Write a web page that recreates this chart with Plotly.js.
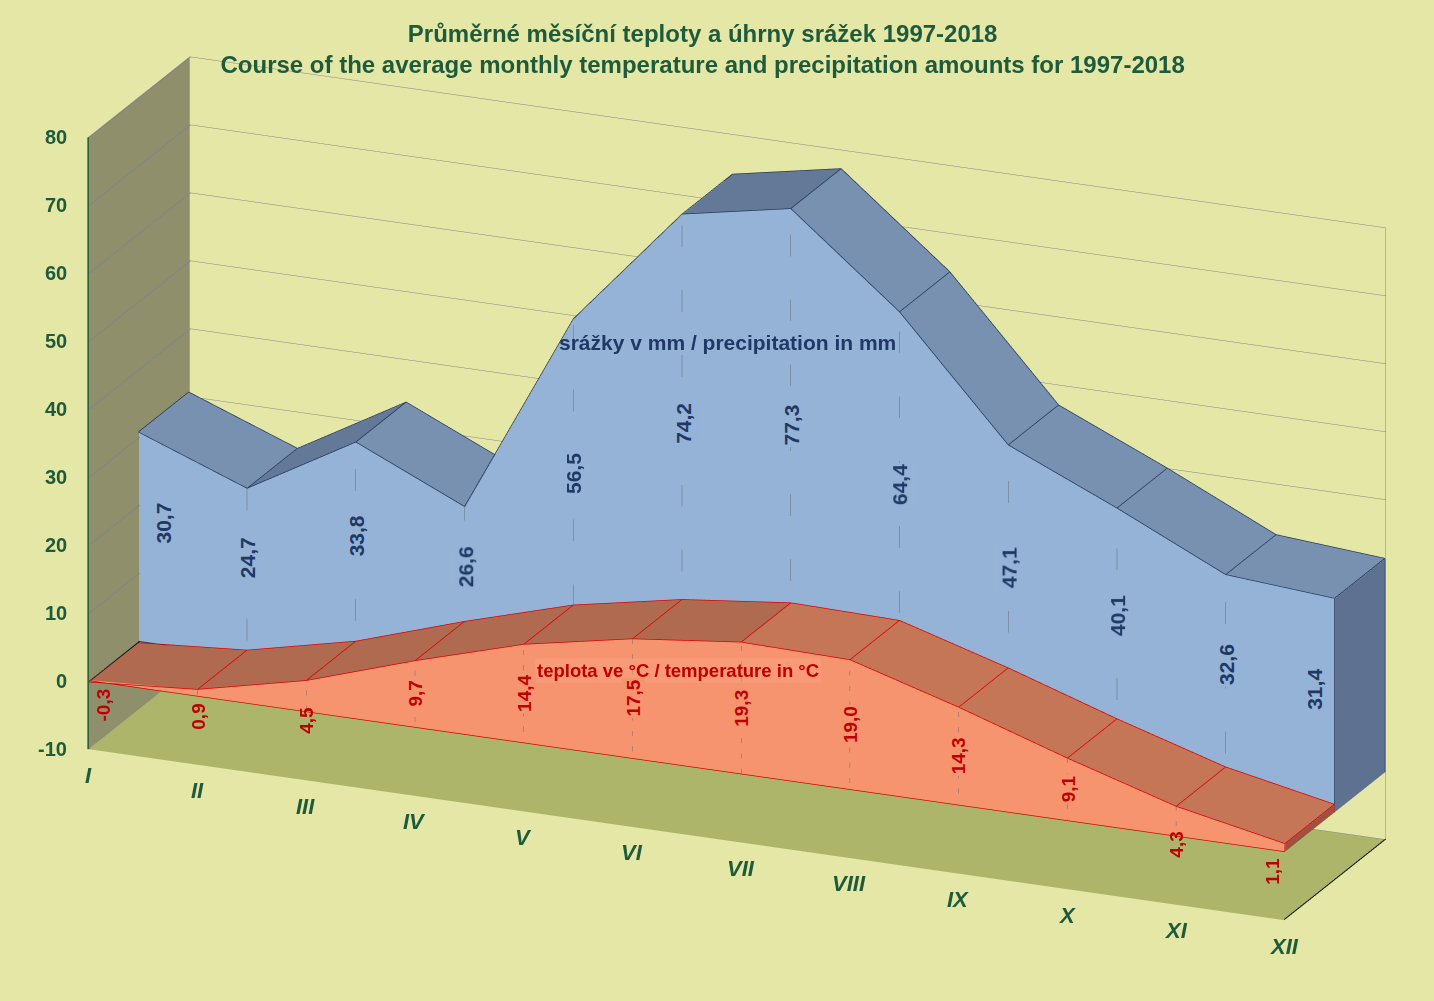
<!DOCTYPE html>
<html>
<head>
<meta charset="utf-8">
<script src="https://cdn.plot.ly/plotly-3.0.1.min.js"></script>
<style>
  html, body { margin: 0; padding: 0; background: #e4e7a6; }
  #chart { width: 1434px; height: 1001px; }
</style>
</head>
<body>
<div id="chart"></div>
<script>
// data
let months = ['I', 'II', 'III', 'IV', 'V', 'VI', 'VII', 'VIII', 'IX', 'X', 'XI', 'XII']
let precip = [30.7, 24.7, 33.8, 26.6, 56.5, 74.2, 77.3, 64.4, 47.1, 40.1, 32.6, 31.4]
let temp = [-0.3, 0.9, 4.5, 9.7, 14.4, 17.5, 19.3, 19.0, 14.3, 9.1, 4.3, 1.1]
let zTicks = [-10, 0, 10, 20, 30, 40, 50, 60, 70, 80]

let titleCz = 'Průměrné měsíční teploty a úhrny srážek 1997-2018'
let titleEn = 'Course of the average monthly temperature and precipitation amounts for 1997-2018'
let precipName = 'srážky v mm / precipitation in mm'
let tempName = 'teplota ve °C / temperature in °C'

let green = '#1e5a3c'
let navy = '#1f3864'
let darkRed = '#c00000'
let fontFam = 'Liberation Sans, Arial, sans-serif'

// depth slots of the two series (0 = front, 1 = back)
let tempDepth = [0.012, 0.5]
let precipDepth = [0.5, 0.996]

let fmt = function(v) { return v.toFixed(1).replace('.', ',') }

// one 3D area "slab" as a mesh
let slab = function(vals, y0, y1, colFront, colUp, colDown, colEnd) {
  let x = [], y = [], z = [], i = [], j = [], k = [], fc = []
  let add = function(px, py, pz) { x.push(px); y.push(py); z.push(pz); return x.length - 1 }
  let quad = function(a, b, c, d, col) {
    i.push(a); j.push(b); k.push(c); fc.push(col)
    i.push(a); j.push(c); k.push(d); fc.push(col)
  }
  let n = vals.length
  for (let m = 0; m < n - 1; m++) {
    let f0 = add(m, y0, 0), f1 = add(m, y0, vals[m])
    let f2 = add(m + 1, y0, vals[m + 1]), f3 = add(m + 1, y0, 0)
    quad(f0, f1, f2, f3, colFront)
    let b1 = add(m, y1, vals[m]), b2 = add(m + 1, y1, vals[m + 1])
    quad(f1, b1, b2, f2, vals[m + 1] < vals[m] ? colDown : colUp)
  }
  let e0 = add(n - 1, y0, 0), e1 = add(n - 1, y0, vals[n - 1])
  let e2 = add(n - 1, y1, vals[n - 1]), e3 = add(n - 1, y1, 0)
  quad(e0, e1, e2, e3, colEnd)
  return {
    type: 'mesh3d', x: x, y: y, z: z, i: i, j: j, k: k, facecolor: fc,
    flatshading: true, hoverinfo: 'skip', showscale: false,
    lighting: {ambient: 1, diffuse: 0, specular: 0, roughness: 1, fresnel: 0}
  }
}

// polyline helper: list of segments -> one scatter3d trace
let lines = function(segs, col, width, dash) {
  let x = [], y = [], z = []
  segs.forEach(function(pts) {
    pts.forEach(function(p) { x.push(p[0]); y.push(p[1]); z.push(p[2]) })
    x.push(null); y.push(null); z.push(null)
  })
  return {
    type: 'scatter3d', mode: 'lines', x: x, y: y, z: z, connectgaps: false,
    line: {color: col, width: width, dash: dash || 'solid'}, hoverinfo: 'skip', showlegend: false
  }
}

// outline edges of a slab, pulled a hair toward the viewer
let edges = function(vals, y0, y1, col) {
  let n = vals.length
  let yf = y0 - 0.006, yb = y1 - 0.006
  let segs = [
    vals.map(function(v, m) { return [m, yf, v + 0.1] }),
    vals.map(function(v, m) { return [m, yb, v + 0.1] }),
    vals.map(function(v, m) { return [m, yf, 0] }),
    [[n - 1, yf, 0], [n - 1, yf, vals[n - 1]]],
    [[n - 1, yb, vals[n - 1]], [n - 1, yb, 0]]
  ]
  vals.forEach(function(v, m) { segs.push([[m, yf, v + 0.1], [m, yb, v + 0.1]]) })
  return lines(segs, col, 1.5)
}

// dashed drop lines on the front face
let drops = function(vals, y0) {
  let segs = []
  for (let m = 1; m < vals.length - 1; m++) segs.push([[m, y0 - 0.006, vals[m]], [m, y0 - 0.006, 0]])
  return lines(segs, '#6b6b6b', 1, 'dash')
}

let last = months.length - 1
let traces = [
  // value gridlines on the left side wall
  lines(zTicks.map(function(v) { return [[0.01, 0, v], [0.01, 1, v]] }), '#7b7f93', 1),
  // right edge of the back wall, right floor edge and the category axis on the wall
  lines([[[last, 0.999, -10], [last, 0.999, 80]]], '#85868a', 1),
  lines([[[last, 0, -9.9], [last, 1, -9.9]], [[0.01, 0, 0], [0.01, tempDepth[1], 0]]], '#111111', 2),
  slab(precip, precipDepth[0], precipDepth[1], '#95b3d7', '#637997', '#7891b0', '#5e7190'),
  slab(temp, tempDepth[0], tempDepth[1], '#f79470', '#b06a4f', '#c47656', '#a05040'),
  edges(precip, precipDepth[0], precipDepth[1], '#243a5e'),
  edges(temp, tempDepth[0], tempDepth[1], '#dd0000'),
  drops(precip, precipDepth[0]),
  drops(temp, tempDepth[0])
]

// text placed through the scene axes
let sceneAnn = []
months.forEach(function(mo, m) {
  sceneAnn.push({
    x: m, y: 0, z: -10, text: '<b><i>' + mo + '</i></b>', showarrow: false, yshift: -26,
    font: {family: fontFam, size: 22, color: green, weight: 'bold', style: 'italic'}
  })
})
zTicks.forEach(function(v) {
  sceneAnn.push({
    x: 0, y: 0, z: v, text: '<b>' + v + '</b>', showarrow: false, xanchor: 'right', xshift: -19,
    font: {family: fontFam, size: 20, color: green, weight: 'bold'}
  })
})
precip.forEach(function(v, m) {
  sceneAnn.push({
    x: m, y: precipDepth[0], z: v / 2 + temp[m] / 4 + 2, text: '<b>' + fmt(v) + '</b>', showarrow: false,
    textangle: -90, bgcolor: '#95b3d7', borderpad: 1,
    xshift: m === 0 ? 24 : (m === last ? -20 : 0),
    font: {family: fontFam, size: 21, color: navy, weight: 'bold'}
  })
})
temp.forEach(function(v, m) {
  let inside = v >= 8
  sceneAnn.push({
    x: m, y: tempDepth[0], z: inside ? v / 2 : v / 2 - 3.5, text: '<b>' + fmt(v) + '</b>', showarrow: false,
    textangle: -90, bgcolor: inside ? '#f79470' : 'rgba(0,0,0,0)', borderpad: 1,
    xshift: m === 0 ? 14 : (m === last ? -13 : 0),
    font: {family: fontFam, size: 19, color: darkRed, weight: 'bold'}
  })
})

let hiddenAxis = {
  showgrid: false, zeroline: false, showticklabels: false, ticks: '', showspikes: false,
  title: {text: ''}, showline: false
}

let k = 2.66
let dir = [0.3679, -0.8667, 0.337]

let layout = {
  width: 1434, height: 1001,
  paper_bgcolor: '#e4e7a6',
  margin: {l: 0, r: 0, t: 0, b: 0},
  showlegend: false,
  hovermode: false,
  title: {
    text: '<b>' + titleCz + '<br>' + titleEn + '</b>',
    x: 0.49, xanchor: 'center', y: 0.958, yanchor: 'top',
    font: {family: fontFam, size: 24, color: green, weight: 'bold'}
  },
  scene: {
    domain: {x: [0.028, 1], y: [0.024, 1]},
    aspectmode: 'manual',
    aspectratio: {x: k, y: 0.2 * k, z: 0.5 * k},
    camera: {
      projection: {type: 'orthographic'},
      eye: {x: 4 * dir[0], y: 4 * dir[1], z: 4 * dir[2]},
      center: {x: 0, y: 0, z: 0},
      up: {x: 0, y: 0, z: 1}
    },
    xaxis: Object.assign({}, hiddenAxis, {range: [0, 11], showbackground: true, backgroundcolor: '#8f8f6b'}),
    yaxis: Object.assign({}, hiddenAxis, {range: [0, 1], showbackground: false}),
    zaxis: Object.assign({}, hiddenAxis, {
      range: [-10, 80], tickvals: zTicks, showgrid: true, gridcolor: '#85868a', gridwidth: 1,
      showbackground: true, backgroundcolor: '#adb56b',
      showline: true, linecolor: green, linewidth: 3
    }),
    annotations: sceneAnn
  },
  annotations: [
    {xref: 'paper', yref: 'paper', x: 0.507, y: 0.658, xanchor: 'center', yanchor: 'middle',
     text: '<b>' + precipName + '</b>', showarrow: false,
     font: {family: fontFam, size: 21, color: navy, weight: 'bold'}},
    {xref: 'paper', yref: 'paper', x: 0.473, y: 0.3297, xanchor: 'center', yanchor: 'middle',
     text: '<b>' + tempName + '</b>', showarrow: false,
     bgcolor: 'rgba(250,165,130,0.45)',
     font: {family: fontFam, size: 18.5, color: darkRed, weight: 'bold'}}
  ]
}

Plotly.newPlot('chart', traces, layout, {displayModeBar: false})
</script>
</body>
</html>
